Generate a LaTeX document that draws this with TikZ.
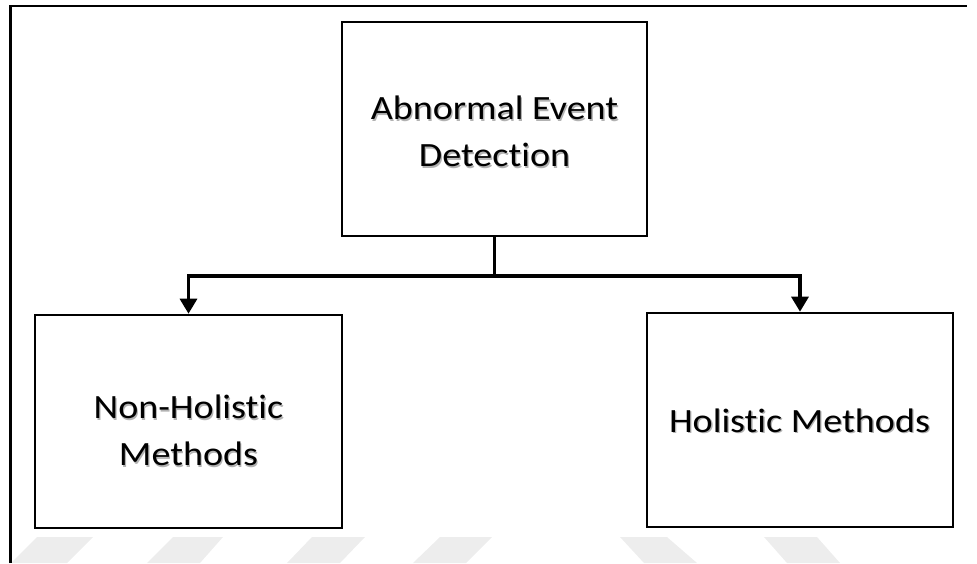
\documentclass[tikz,border=0pt]{standalone}
\usepackage{fontspec}
\setmainfont{Carlito}[FakeStretch=1.12, Ligatures=NoCommon]
\usetikzlibrary{arrows.meta,shadows}
\tikzset{
  box/.style={draw=black, line width=2.6pt, fill=white, minimum width=#1, inner sep=0pt,
    align=center, font=\fontsize{34}{47}\selectfont,
    drop shadow={shadow xshift=1.4pt, shadow yshift=-1.4pt, fill=black!35, opacity=1}},
  shade text/.style={text=black!30, align=center, font=\fontsize{34}{47}\selectfont, inner sep=0pt},
  conn/.style={line width=3.2pt},
  arr/.style={conn, -{Triangle[width=17pt,length=15pt]}},
  frame/.style={line width=2.4pt},
  wmark/.style={fill=black!7, draw=none}
}
\begin{document}
\begin{tikzpicture}[x=1pt, y=-1pt]
\useasboundingbox (0,0) rectangle (977,563);
% watermark bands
\begin{scope}
\clip (11,537) rectangle (977,563);
\fill[wmark] (37,537) -- (93,537) -- (67,563) -- (11,563) -- cycle;
\fill[wmark] (173,537) -- (223,537) -- (200,563) -- (147,563) -- cycle;
\fill[wmark] (312,537) -- (365,537) -- (340,563) -- (287,563) -- cycle;
\fill[wmark] (440,537) -- (492,537) -- (466,563) -- (413,563) -- cycle;
\fill[wmark] (620,537) -- (667,537) -- (697,563) -- (644,563) -- cycle;
\fill[wmark] (764,537) -- (817,537) -- (840,563) -- (787,563) -- cycle;
\end{scope}
% frame (top and left)
\draw[frame] (10.5,563) -- (10.5,6) -- (967,6);
% boxes
\node[box=305pt, minimum height=214pt] (top) at (494.5,129) {};
\node[box=307pt, minimum height=213pt] (left) at (188.5,421.5) {};
\node[box=306pt, minimum height=214pt] (right) at (800,420) {};
% text shadows
\node[shade text] at (495.8,133) {Abnormal Event\\Detection};
\node[shade text] at (189.6,432) {Non-Holistic\\Methods};
\node[shade text] at (800.8,422) {Holistic Methods};
% texts
\node[shade text, text=black] (toptext) at (494.5,131.5) {Abnormal Event\\Detection};
\node[shade text, text=black] (lefttext) at (188.5,430.5) {Non-Holistic\\Methods};
\node[shade text, text=black] (righttext) at (799.5,420.5) {Holistic Methods};
% connectors
\coordinate (junc) at (494.5,276);
\draw[conn] (top.south) -- (junc);
\draw[arr] (junc) -| (left.north);
\draw[arr] (junc) -| (right.north);
\end{tikzpicture}
\end{document}
